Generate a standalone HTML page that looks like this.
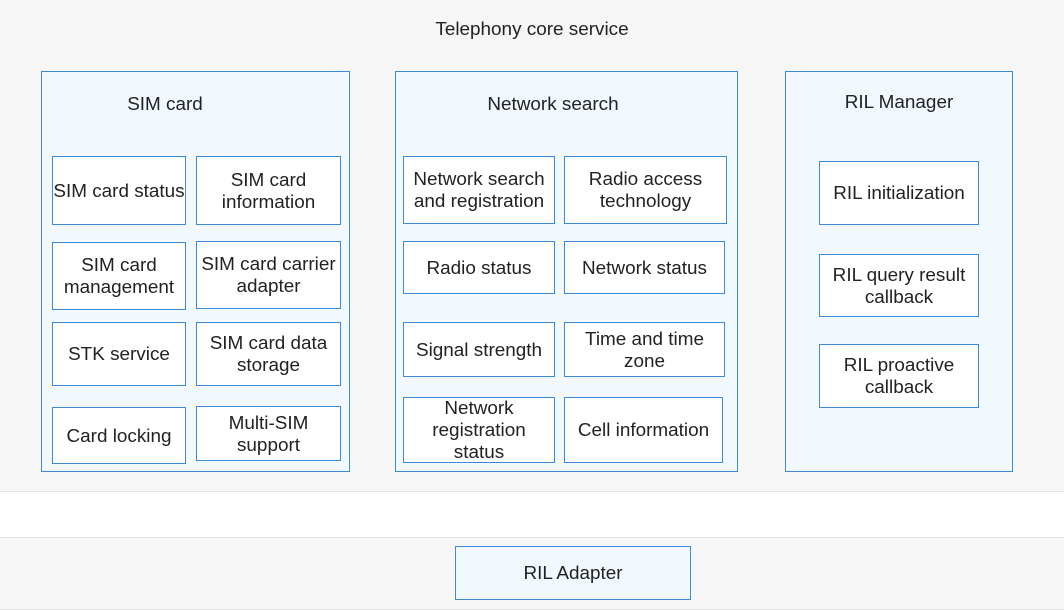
<!DOCTYPE html>
<html><head><style>
body{margin:0;width:1064px;height:609px;position:relative;background:#fff;font-family:"Liberation Sans",sans-serif;color:#222;overflow:hidden}
div{position:absolute;box-sizing:border-box}
.g{background:#f6f6f6;border:1px solid #e2e2e2}
.p{background:#f1f8fe;border:1px solid #3a8ad6}
.b{background:#fff;border:1px solid #3a8ad6;display:flex;align-items:center;justify-content:center;text-align:center;font-size:18.9px;line-height:22px;white-space:nowrap;padding-top:2px}
.t{font-size:18.9px;text-align:center}
</style></head><body>
<div class="g" style="left:-1px;top:-1px;width:1066px;height:493px"></div>
<div class="t" style="left:0;top:19px;width:1064px">Telephony core service</div>
<div class="p" style="left:41px;top:71px;width:309px;height:401px"></div>
<div class="t" style="left:41px;top:94px;width:248px">SIM card</div>
<div class="p" style="left:395px;top:71px;width:343px;height:401px"></div>
<div class="t" style="left:395px;top:94px;width:316px">Network search</div>
<div class="p" style="left:785px;top:71px;width:228px;height:401px"></div>
<div class="t" style="left:785px;top:92px;width:228px">RIL Manager</div>

<div class="b" style="left:52px;top:156px;width:134px;height:69px">SIM card status</div>
<div class="b" style="left:196px;top:156px;width:145px;height:69px">SIM card<br>information</div>
<div class="b" style="left:52px;top:242px;width:134px;height:68px">SIM card<br>management</div>
<div class="b" style="left:196px;top:241px;width:145px;height:68px">SIM card carrier<br>adapter</div>
<div class="b" style="left:52px;top:322px;width:134px;height:64px">STK service</div>
<div class="b" style="left:196px;top:322px;width:145px;height:64px">SIM card data<br>storage</div>
<div class="b" style="left:52px;top:407px;width:134px;height:57px">Card locking</div>
<div class="b" style="left:196px;top:406px;width:145px;height:55px">Multi-SIM<br>support</div>

<div class="b" style="left:403px;top:156px;width:152px;height:68px">Network search<br>and registration</div>
<div class="b" style="left:564px;top:156px;width:163px;height:68px">Radio access<br>technology</div>
<div class="b" style="left:403px;top:241px;width:152px;height:53px">Radio status</div>
<div class="b" style="left:564px;top:241px;width:161px;height:53px">Network status</div>
<div class="b" style="left:403px;top:322px;width:152px;height:55px">Signal strength</div>
<div class="b" style="left:564px;top:322px;width:161px;height:55px">Time and time<br>zone</div>
<div class="b" style="left:403px;top:397px;width:152px;height:66px">Network<br>registration<br>status</div>
<div class="b" style="left:564px;top:397px;width:159px;height:66px">Cell information</div>

<div class="b" style="left:819px;top:161px;width:160px;height:64px">RIL initialization</div>
<div class="b" style="left:819px;top:254px;width:160px;height:63px">RIL query result<br>callback</div>
<div class="b" style="left:819px;top:344px;width:160px;height:64px">RIL proactive<br>callback</div>

<div class="g" style="left:-1px;top:537px;width:1066px;height:73px"></div>
<div class="b" style="left:455px;top:546px;width:236px;height:54px;background:#f1f8fe">RIL Adapter</div>
</body></html>
